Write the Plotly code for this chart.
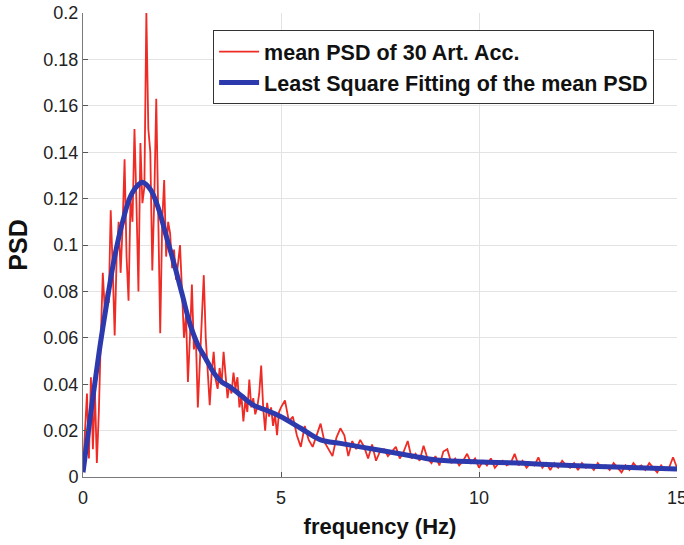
import numpy as np
import plotly.graph_objects as go

# Mean PSD, 0.00 - 5.00 Hz (0.05 Hz bins)
psd_low = [
    0.003, 0.020, 0.036, 0.008, 0.043, 0.012, 0.038, 0.006, 0.028, 0.060,
    0.088, 0.072, 0.080, 0.075, 0.115, 0.090, 0.061, 0.095, 0.110, 0.088,
    0.108, 0.137, 0.095, 0.076, 0.120, 0.110, 0.150, 0.118, 0.080, 0.144,
    0.118, 0.125, 0.200, 0.150, 0.140, 0.089, 0.120, 0.163, 0.115, 0.062,
    0.110, 0.128, 0.095, 0.110, 0.105, 0.090, 0.098, 0.085, 0.092, 0.100,
    0.080, 0.060, 0.070, 0.041, 0.060, 0.083, 0.055, 0.060, 0.030, 0.050,
    0.065, 0.087, 0.060, 0.045, 0.031, 0.045, 0.054, 0.042, 0.038, 0.047,
    0.040, 0.054, 0.044, 0.034, 0.040, 0.036, 0.045, 0.038, 0.043, 0.030,
    0.035, 0.024, 0.033, 0.028, 0.042, 0.030, 0.034, 0.027, 0.030, 0.036,
    0.048, 0.030, 0.020, 0.032, 0.026, 0.030, 0.022, 0.027, 0.018, 0.028,
    0.030,
]
# Mean PSD, 5.1 - 15.0 Hz (0.1 Hz bins)
psd_high = [
    0.033, 0.024, 0.026, 0.018, 0.013, 0.022, 0.016, 0.013, 0.018, 0.023,
    0.015, 0.012, 0.009, 0.017, 0.021, 0.018, 0.009, 0.0155, 0.012, 0.016,
    0.013, 0.008, 0.014, 0.007, 0.011, 0.012, 0.009, 0.011, 0.013, 0.008,
    0.011, 0.0155, 0.008, 0.010, 0.007, 0.0135, 0.008, 0.006, 0.009, 0.005,
    0.011, 0.012, 0.006, 0.008, 0.005, 0.007, 0.010, 0.006, 0.008, 0.004,
    0.007, 0.005, 0.008, 0.004, 0.006, 0.007, 0.005, 0.006, 0.010, 0.005,
    0.007, 0.004, 0.006, 0.005, 0.0085, 0.004, 0.006, 0.003, 0.006, 0.004,
    0.007, 0.005, 0.004, 0.006, 0.003, 0.006, 0.004, 0.005, 0.003, 0.006,
    0.004, 0.005, 0.003, 0.006, 0.004, 0.002, 0.005, 0.003, 0.006, 0.004,
    0.005, 0.003, 0.006, 0.004, 0.002, 0.005, 0.003, 0.004, 0.0085, 0.004,
]
freq_low = np.round(np.arange(len(psd_low)) * 0.05, 2)
freq_high = np.round(5.0 + 0.1 * (1 + np.arange(len(psd_high))), 2)
freq = np.concatenate([freq_low, freq_high])
psd = psd_low + psd_high

# Least-square fit curve
fit_freq = [0, 0.2, 0.4, 0.6, 0.8, 1.0, 1.2, 1.4, 1.5, 1.7, 1.9, 2.1, 2.3, 2.5,
            2.7, 2.9, 3.1, 3.3, 3.5, 3.7, 4.0, 4.3, 4.6, 5.0, 5.5, 6.0, 6.5,
            7.0, 7.5, 8.0, 8.5, 9.0, 10, 11, 12, 13, 14, 15]
fit_psd = [0.002, 0.028, 0.053, 0.075, 0.095, 0.110, 0.121, 0.126, 0.127, 0.124,
           0.116, 0.104, 0.092, 0.079, 0.066, 0.057, 0.051, 0.045, 0.041, 0.039,
           0.035, 0.031, 0.029, 0.026, 0.021, 0.016, 0.0145, 0.013, 0.0115,
           0.010, 0.0085, 0.0072, 0.0065, 0.006, 0.0052, 0.0045, 0.004, 0.0035]

x_ticks = [0, 5, 10, 15]
y_ticks = [0, 0.02, 0.04, 0.06, 0.08, 0.1, 0.12, 0.14, 0.16, 0.18, 0.2]
y_tick_labels = ["0", "0.02", "0.04", "0.06", "0.08", "0.1", "0.12", "0.14",
                 "0.16", "0.18", "0.2"]

FONT = "Arial, Liberation Sans, Helvetica, sans-serif"

fig = go.Figure()
fig.add_trace(go.Scatter(x=freq, y=psd, mode="lines",
                         name="mean PSD of 30 Art. Acc.",
                         line=dict(color="#ee2b25", width=1.8)))
fig.add_trace(go.Scatter(x=fit_freq, y=fit_psd, mode="lines",
                         line_shape="spline",
                         name="Least Square Fitting of the mean PSD",
                         line=dict(color="#2c3aad", width=5)))

axis_common = dict(showgrid=True, gridcolor="#e3e3e3", gridwidth=1,
                   zeroline=False, showline=True, linecolor="#7a7a7a",
                   linewidth=1, ticks="inside", ticklen=5, tickcolor="#555",
                   automargin=False, ticklabeloverflow="allow",
                   tickfont=dict(family=FONT, size=18, color="#222"))

fig.update_layout(
    width=684, height=545,
    margin=dict(l=83, r=7, t=13, b=68),
    paper_bgcolor="white", plot_bgcolor="white",
    xaxis=dict(range=[0, 15], tickvals=x_ticks, ticklabelstandoff=4,
               title=dict(text="frequency (Hz)", standoff=12,
                          font=dict(family=FONT, size=22, color="#111", weight="bold")),
               **axis_common),
    yaxis=dict(range=[0, 0.2], tickvals=y_ticks, ticktext=y_tick_labels,
               title=dict(text="PSD", standoff=8,
                          font=dict(family=FONT, size=25, color="#111", weight="bold")),
               **axis_common),
    legend=dict(x=0.219, y=0.963, xanchor="left", yanchor="top",
                bgcolor="white", bordercolor="#333", borderwidth=1,
                font=dict(family=FONT, size=21.5, color="#111", weight="bold"),
                itemwidth=40, tracegroupgap=0),
    showlegend=True,
)

# remove the default 8px page margin so the figure sits at the window origin
fig.write_html("out.html", config={"displayModeBar": False},
               post_script="document.body.style.margin='0';")
